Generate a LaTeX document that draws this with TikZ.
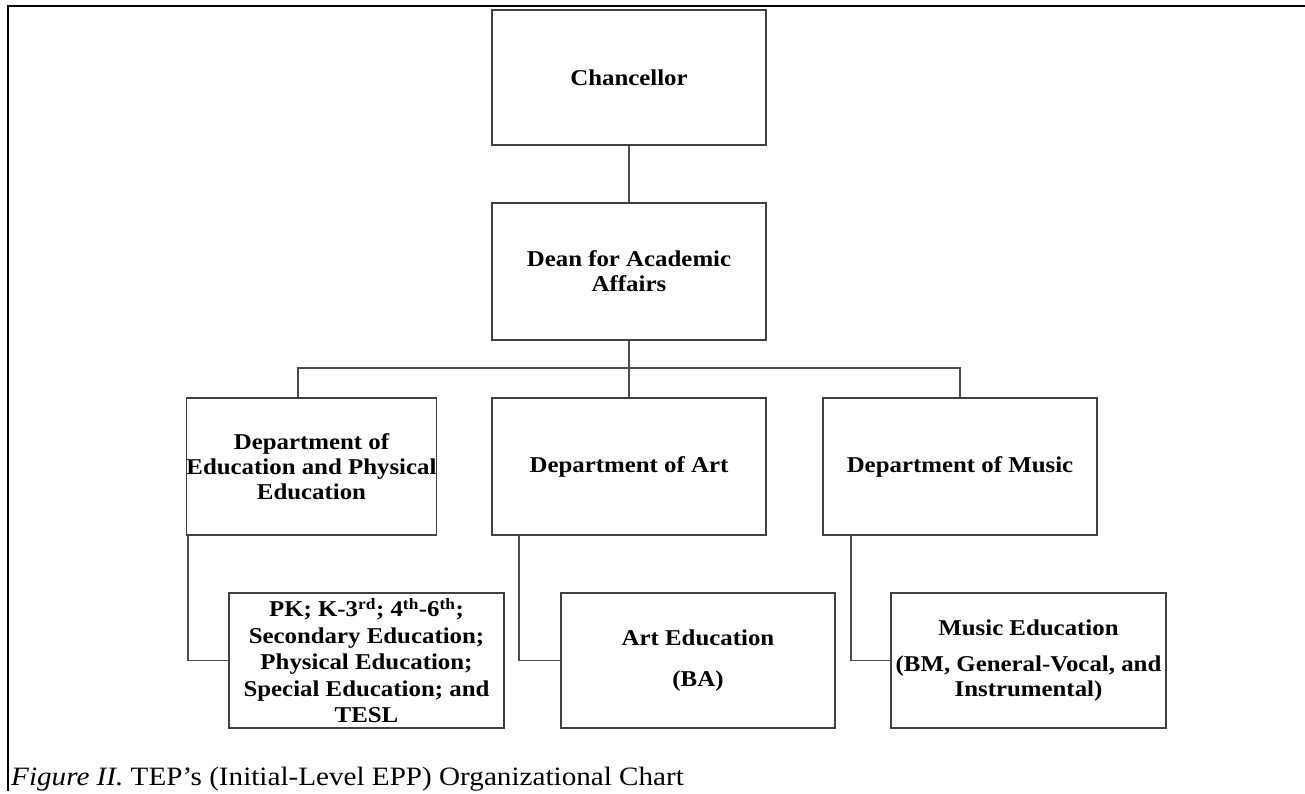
\documentclass[tikz,border=0pt]{standalone}
\usepackage{fontspec}
\setmainfont{Liberation Serif}[FakeStretch=1.1]
\begin{document}
\begin{tikzpicture}[x=1pt,y=-1pt,
  box/.style={draw=black!75, line width=1.4pt, align=center, inner sep=0pt,
    font=\fontsize{22.6}{25}\selectfont\bfseries, text=black},
  conn/.style={draw=black!70, line width=1.4pt}]
\useasboundingbox (0,0) rectangle (1305,793);
% frame
\draw[line width=2.6pt] (8,791) -- (8,6) -- (1305,6);
% nodes
\node[box, minimum width=274pt, minimum height=135pt] (chan) at (629,77.5) {Chancellor};
\node[box, minimum width=274pt, minimum height=137pt] (dean) at (629,271.5) {Dean for Academic\\Affairs};
\node[box, minimum width=249pt, minimum height=137pt] (dedu) at (311.5,466.5) {Department of\\Education and Physical\\Education};
\node[box, minimum width=274pt, minimum height=137pt] (dart) at (629,466.5) {Department of Art};
\node[box, minimum width=274pt, minimum height=137pt] (dmus) at (960,466.5) {Department of Music};
\node[box, minimum width=275pt, minimum height=135pt, font=\fontsize{22.6}{26.5}\selectfont\bfseries] (ped) at (366.5,660.5)
  {PK; K-3\textsuperscript{rd}; 4\textsuperscript{th}-6\textsuperscript{th};\\Secondary Education;\\Physical Education;\\Special Education; and\\TESL};
\node[box, minimum width=274pt, minimum height=135pt] (aed) at (698,660.5) {Art Education\\[16pt](BA)};
\node[box, minimum width=275pt, minimum height=135pt] (med) at (1028.5,660.5) {Music Education\\[11pt](BM, General-Vocal, and\\Instrumental)};
% connector points
\coordinate (busL) at (298,368);
\coordinate (busR) at (960,368);
\coordinate (xe) at (188,0);
\coordinate (xa) at (519,0);
\coordinate (xm) at (851,0);
% connectors
\draw[conn] (chan.south) -- (dean.north);
\draw[conn] (dean.south) -- (dart.north);
\draw[conn] (dedu.north -| busL) -- (busL) -- (busR) -- (dmus.north);
\draw[conn] (dedu.south -| xe) |- (ped.west);
\draw[conn] (dart.south -| xa) |- (aed.west);
\draw[conn] (dmus.south -| xm) |- (med.west);
% caption
\node[anchor=base west, inner sep=0pt, font=\fontsize{26.5}{28}\selectfont] (cap) at (11,785)
  {\textit{Figure II.} TEP’s (Initial-Level EPP) Organizational Chart};
\end{tikzpicture}
\end{document}
